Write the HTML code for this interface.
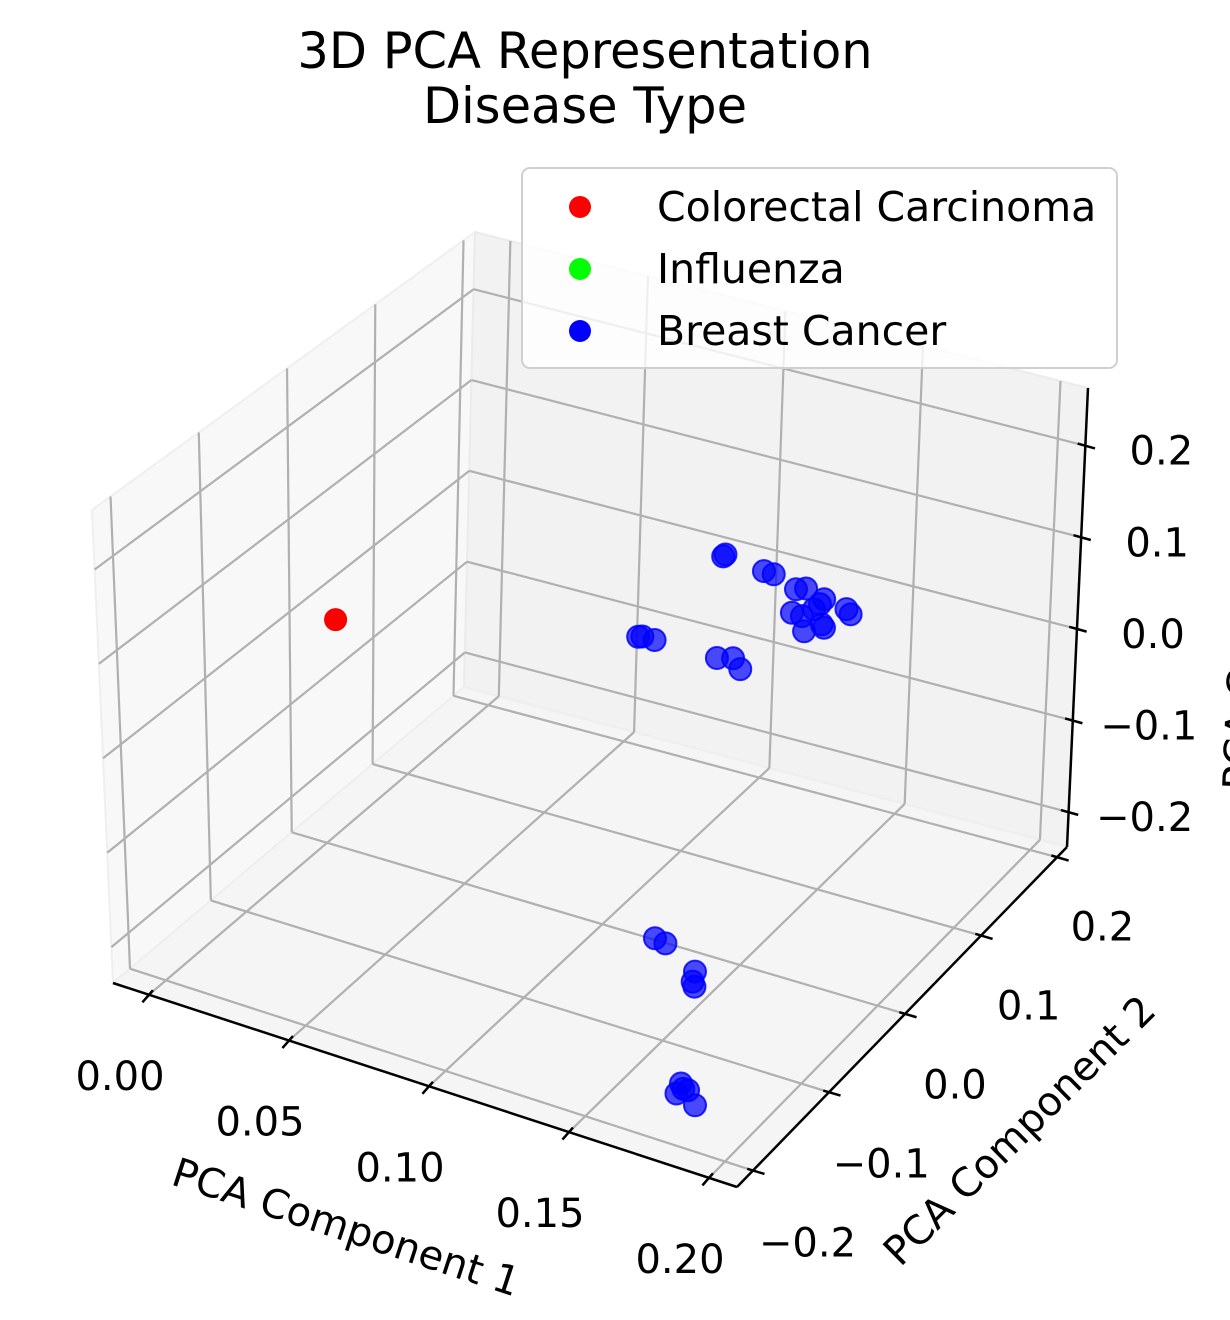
<!DOCTYPE html>
<html><head><meta charset="utf-8"><style>
html,body{margin:0;padding:0;background:#fff;}
svg{display:block;font-family:"DejaVu Sans","Liberation Sans",sans-serif;}
</style></head><body>
<svg id="chart" width="1230" height="1320" viewBox="0 0 1230 1320" xmlns="http://www.w3.org/2000/svg">
<g id="panes"></g>
<g id="grid"></g>
<g id="axes"></g>
<g id="points"></g>
<text x="585" y="68" font-size="49.5" text-anchor="middle" fill="#000">3D PCA Representation</text>
<text x="585" y="123" font-size="49.5" text-anchor="middle" fill="#000">Disease Type</text>
<text x="0" y="0" font-size="40" text-anchor="middle" dominant-baseline="central" transform="translate(346,1228) rotate(18.1)">PCA Component 1</text>
<text x="0" y="0" font-size="40" text-anchor="middle" dominant-baseline="central" transform="translate(1020,1131) rotate(-44.7)">PCA Component 2</text>
<text x="0" y="0" font-size="40" text-anchor="middle" dominant-baseline="central" transform="translate(1246,609) rotate(-87.5)">PCA Component 3</text>
<g>
<rect x="522" y="168" width="595" height="200" rx="8" fill="#fff" fill-opacity="0.8" stroke="#d0d0d0" stroke-width="2"/>
<g><circle cx="580" cy="207" r="11" fill="#ff0000"/><text x="657" y="207" font-size="41" dominant-baseline="central">Colorectal Carcinoma</text></g>
<g><circle cx="580" cy="269" r="11" fill="#00ff00"/><text x="657" y="269" font-size="41" dominant-baseline="central">Influenza</text></g>
<g><circle cx="580" cy="331" r="11" fill="#0000ff"/><text x="657" y="331" font-size="41" dominant-baseline="central">Breast Cancer</text></g>
</g>
</svg>
<script>
// ---- data ----
const redX = [0.0050];
const redY = [-0.004];
const redZ = [0.0102];
const blueX = [0.1452,0.1444,0.1590,0.1625,0.1705,0.1741,0.1806,0.1791,0.1770,0.1691,0.1727,0.1735,0.1806,0.1798,0.1886,0.1901,0.1140,0.1155,0.1199,0.1423,0.1481,0.1507,
  0.1702,0.1739,0.1843,0.1834,0.1840,0.1785,0.1768,0.1810,0.1834,0.1793];
const blueY = [-0.004,-0.004,-0.004,-0.004,-0.004,-0.004,-0.004,-0.004,-0.004,-0.004,-0.004,-0.004,-0.004,-0.004,-0.004,-0.004,-0.004,-0.004,-0.004,-0.004,-0.004,-0.004,
  -0.178,-0.178,-0.178,-0.178,-0.178,-0.178,-0.178,-0.178,-0.178,-0.178];
const blueZ = [0.2019,0.1992,0.1960,0.1956,0.1864,0.1903,0.1844,0.1778,0.1705,0.1600,0.1594,0.1439,0.1538,0.1568,0.1807,0.1764,0.0865,0.0881,0.0881,0.0882,0.0930,0.0835,
  -0.0483,-0.0502,-0.0703,-0.0817,-0.0865,-0.1940,-0.2062,-0.1988,-0.2124,-0.1989];
const xTicks = [0.00,0.05,0.10,0.15,0.20];
const xTickLabels = ["0.00","0.05","0.10","0.15","0.20"];
const yTicks = [-0.2,-0.1,0.0,0.1,0.2];
const yTickLabels = ["\u22120.2","\u22120.1","0.0","0.1","0.2"];
const zTicks = [-0.2,-0.1,0.0,0.1,0.2];
const zTickLabels = ["\u22120.2","\u22120.1","0.0","0.1","0.2"];
const xDomain = [-0.01286, 0.2100];
const yDomain = [-0.221, 0.213];
const zDomain = [-0.238, 0.263];

// ---- projection (box corners on screen) ----
const C = {
  '000':[113,983], '100':[737,1187], '110':[1067,847], '010':[464,687],
  '001':[92,510], '101':[726,711], '111':[1088,388], '011':[475,232]
};
function lerp(a,b,t){return [a[0]+(b[0]-a[0])*t, a[1]+(b[1]-a[1])*t];}
function proj(x,y,z){
  const u=(x-xDomain[0])/(xDomain[1]-xDomain[0]);
  const v=(y-yDomain[0])/(yDomain[1]-yDomain[0]);
  const w=(z-zDomain[0])/(zDomain[1]-zDomain[0]);
  const b0=lerp(lerp(C['000'],C['100'],u), lerp(C['010'],C['110'],u), v);
  const b1=lerp(lerp(C['001'],C['101'],u), lerp(C['011'],C['111'],u), v);
  return lerp(b0,b1,w);
}
const NS="http://www.w3.org/2000/svg";
function mk(tag, parent, attrs){const e=document.createElementNS(NS,tag);for(const k in attrs)e.setAttribute(k,attrs[k]);parent.appendChild(e);return e;}
const [x0,x1]=xDomain,[y0,y1]=yDomain,[z0,z1]=zDomain;
function poly(pts){return pts.map(p=>p[0].toFixed(1)+','+p[1].toFixed(1)).join(' ');}

// panes
const panes=document.getElementById('panes');
let p=mk('polygon',panes,{points:poly([proj(x0,y0,z0),proj(x0,y1,z0),proj(x0,y1,z1),proj(x0,y0,z1)]),fill:'#f8f8f8',stroke:'#efefef','stroke-width':2});


p=mk('polygon',panes,{points:poly([proj(x0,y1,z0),proj(x1,y1,z0),proj(x1,y1,z1),proj(x0,y1,z1)]),fill:'#f2f2f2',stroke:'#ebebeb','stroke-width':2});


p=mk('polygon',panes,{points:poly([proj(x0,y0,z0),proj(x1,y0,z0),proj(x1,y1,z0),proj(x0,y1,z0)]),fill:'#f5f5f5',stroke:'#eeeeee','stroke-width':2});



// grid
const grid=document.getElementById('grid');
function gl(a,b,name){const l=mk('line',grid,{x1:a[0],y1:a[1],x2:b[0],y2:b[1],stroke:'#b0b0b0','stroke-width':2.2});

}
yTicks.forEach(y=>{gl(proj(x0,y,z0),proj(x0,y,z1),'grid-y-left');gl(proj(x0,y,z0),proj(x1,y,z0),'grid-y-floor');});
zTicks.forEach(z=>{gl(proj(x0,y0,z),proj(x0,y1,z),'grid-z-left');gl(proj(x0,y1,z),proj(x1,y1,z),'grid-z-back');});
xTicks.forEach(x=>{gl(proj(x,y1,z0),proj(x,y1,z1),'grid-x-back');gl(proj(x,y0,z0),proj(x,y1,z0),'grid-x-floor');});

// axes
const axes=document.getElementById('axes');
function al(a,b,name){const l=mk('line',axes,{x1:a[0],y1:a[1],x2:b[0],y2:b[1],stroke:'#000','stroke-width':2.5});

}
al(proj(x0,y0,z0),proj(x1,y0,z0),'x-axis-line');
al(proj(x1,y0,z0),proj(x1,y1,z0),'y-axis-line');
al(proj(x1,y1,z0),proj(x1,y1,z1),'z-axis-line');
function tick(pt,dir,inn,out,name){const n=Math.hypot(dir[0],dir[1]);const d=[dir[0]/n,dir[1]/n];
 const l=mk('line',axes,{x1:pt[0]-d[0]*inn,y1:pt[1]-d[1]*inn,x2:pt[0]+d[0]*out,y2:pt[1]+d[1]*out,stroke:'#000','stroke-width':2.5});
 
 }
function lab(x,y,s,name){const t=mk('text',axes,{x:x,y:y,'font-size':40,'text-anchor':'middle','dominant-baseline':'central',fill:'#000'});t.textContent=s;
 
 }
xTicks.forEach((x,i)=>{const pt=proj(x,y0,z0);tick(pt,[-7,8],6,10,'x-tick');lab(pt[0]-29,pt[1]+82,xTickLabels[i],'x-tick-label');});
yTicks.forEach((y,i)=>{const pt=proj(x1,y,z0);const t=(y-y0)/(y1-y0);tick(pt,[17,5],6,12,'y-tick');lab(pt[0]+55-10*t,pt[1]+73-3*t,yTickLabels[i],'y-tick-label');});
zTicks.forEach((z,i)=>{const pt=proj(x1,y1,z);tick(pt,[18,5],8,10,'z-tick');lab(pt[0]+76,pt[1]+6,zTickLabels[i],'z-tick-label');});

// points
const pts=document.getElementById('points');
blueX.forEach((x,i)=>{const q=proj(x,blueY[i],blueZ[i]);const c=mk('circle',pts,{cx:q[0],cy:q[1],r:11,fill:'#0000ff','fill-opacity':0.7,stroke:'#0000ff','stroke-opacity':0.85,'stroke-width':2});

});
redX.forEach((x,i)=>{const q=proj(x,redY[i],redZ[i]);const c=mk('circle',pts,{cx:q[0],cy:q[1],r:11,fill:'#ff0000',stroke:'#ee0000','stroke-width':1});

});
</script>
</body></html>
